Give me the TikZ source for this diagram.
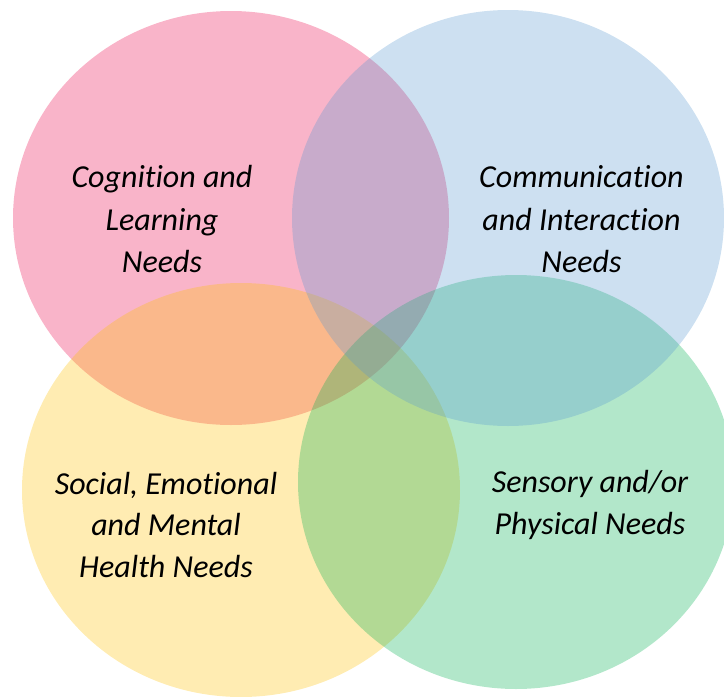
\documentclass[tikz,border=0pt]{standalone}
\usepackage{fontspec}
\setmainfont[Ligatures={NoCommon}]{Carlito}
\definecolor{cpink}{RGB}{235,8,75}
\definecolor{cblue}{RGB}{88,152,208}
\definecolor{cyellow}{RGB}{255,192,0}
\definecolor{cgreen}{RGB}{0,176,80}
\begin{document}
\begin{tikzpicture}[x=1pt,y=-1pt,
  blob/.style={fill opacity=0.3,draw=none},
  lbl/.style={anchor=base,inner sep=0pt,font=\fontsize{32}{38}\selectfont\itshape,text=black}]
\useasboundingbox (0,0) rectangle (724,697);
\begin{scope}
\clip (0,0) rectangle (724,697);
\fill[blob,cpink] (231,218) ellipse [x radius=218,y radius=207];
\fill[blob,cyellow] (241,490) ellipse [x radius=219,y radius=207];
\fill[blob,cgreen] (516,482) ellipse [x radius=218,y radius=207];
\fill[blob,cblue] (508,218) ellipse [x radius=216,y radius=208];
\end{scope}
\node[lbl] (p1) at (162,187) {Cognition and};
\node[lbl] (p2) at (162,230) {Learning};
\node[lbl] (p3) at (162,272) {Needs};
\node[lbl] (b1) at (581.5,187) {Communication};
\node[lbl] (b2) at (581.5,230) {and Interaction};
\node[lbl] (b3) at (581.5,272) {Needs};
\node[lbl] (y1) at (166,494) {Social, Emotional};
\node[lbl] (y2) at (166,535) {and Mental};
\node[lbl] (y3) at (166,577) {Health Needs};
\node[lbl] (g1) at (590,492) {Sensory and/or};
\node[lbl] (g2) at (590,534) {Physical Needs};
\end{tikzpicture}
\end{document}
